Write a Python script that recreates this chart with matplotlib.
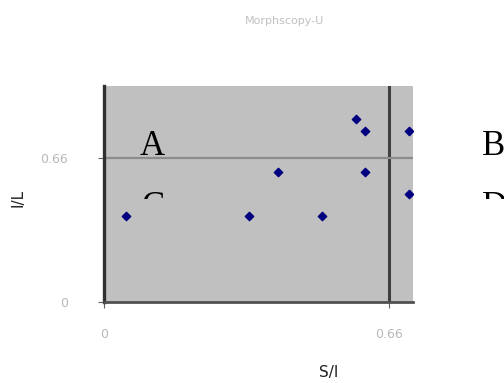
import matplotlib.pyplot as plt
from matplotlib.transforms import Bbox, TransformedBbox

# sample values (S/I vs I/L)
s_i = [0.052, 0.335, 0.403, 0.504, 0.583, 0.604, 0.604, 0.706, 0.706]
i_l = [0.393, 0.393, 0.594, 0.393, 0.839, 0.785, 0.594, 0.785, 0.494]

limit = 0.66
tick_values = [0, 0.66]
tick_labels = ["0", "0.66"]

fig = plt.figure(figsize=(5.04, 3.83), dpi=100)
ax = fig.add_axes([104 / 504, 81 / 383, 309 / 504, 216 / 383])
ax.set_facecolor('#c0c0c0')

ax.scatter(s_i, i_l, marker='D', s=18, color='#000080', zorder=3)

ax.axvline(limit, color='#404040', lw=2.2, zorder=2)
ax.axhline(limit, color='#8c8c8c', lw=1.6, zorder=2)

ax.set_xlim(0, 0.7156)
ax.set_ylim(0, 0.99)

ax.set_xticks(tick_values)
ax.set_xticklabels(tick_labels)
ax.set_yticks(tick_values)
ax.set_yticklabels(tick_labels)
ax.tick_params(length=4, width=0.8, color='#606060', labelcolor='#b8b8b8',
               labelsize=9)
ax.tick_params(axis='x', pad=15)
ax.tick_params(axis='y', pad=22)

ax.spines['left'].set_color('#303030')
ax.spines['left'].set_linewidth(2.4)
ax.spines['bottom'].set_color('#505050')
ax.spines['bottom'].set_linewidth(2.0)
ax.spines['top'].set_visible(False)
ax.spines['right'].set_visible(False)

# quadrant letters, C and D cut off as in the original
letter_font = dict(family='Liberation Serif', fontsize=25, color='black',
                   ha='left', va='baseline')
ax.text(0.083, 0.674, "A", **letter_font)
ax.text(0.875, 0.674, "B", clip_on=False, **letter_font)
clip = TransformedBbox(Bbox([[0, 1 - 199 / 383], [1, 1]]), fig.transFigure)
for x, lab in [(0.088, "C"), (0.875, "D")]:
    t = ax.text(x, 0.394, lab, **letter_font)
    t.set_clip_box(clip)
    t.set_clip_on(True)

fig.text(285 / 504, 1 - 21 / 383, "Morphscopy-U", ha='center', va='center',
         fontsize=8, color='#c0c0c0')
fig.text(329 / 504, 1 - 373 / 383, "S/I", ha='center', va='center',
         fontsize=11, color='#202020')
fig.text(18 / 504, 1 - 198 / 383, "I/L", ha='center', va='center',
         rotation=90, fontsize=11, color='#202020')

fig.savefig("out.png", dpi=100)
